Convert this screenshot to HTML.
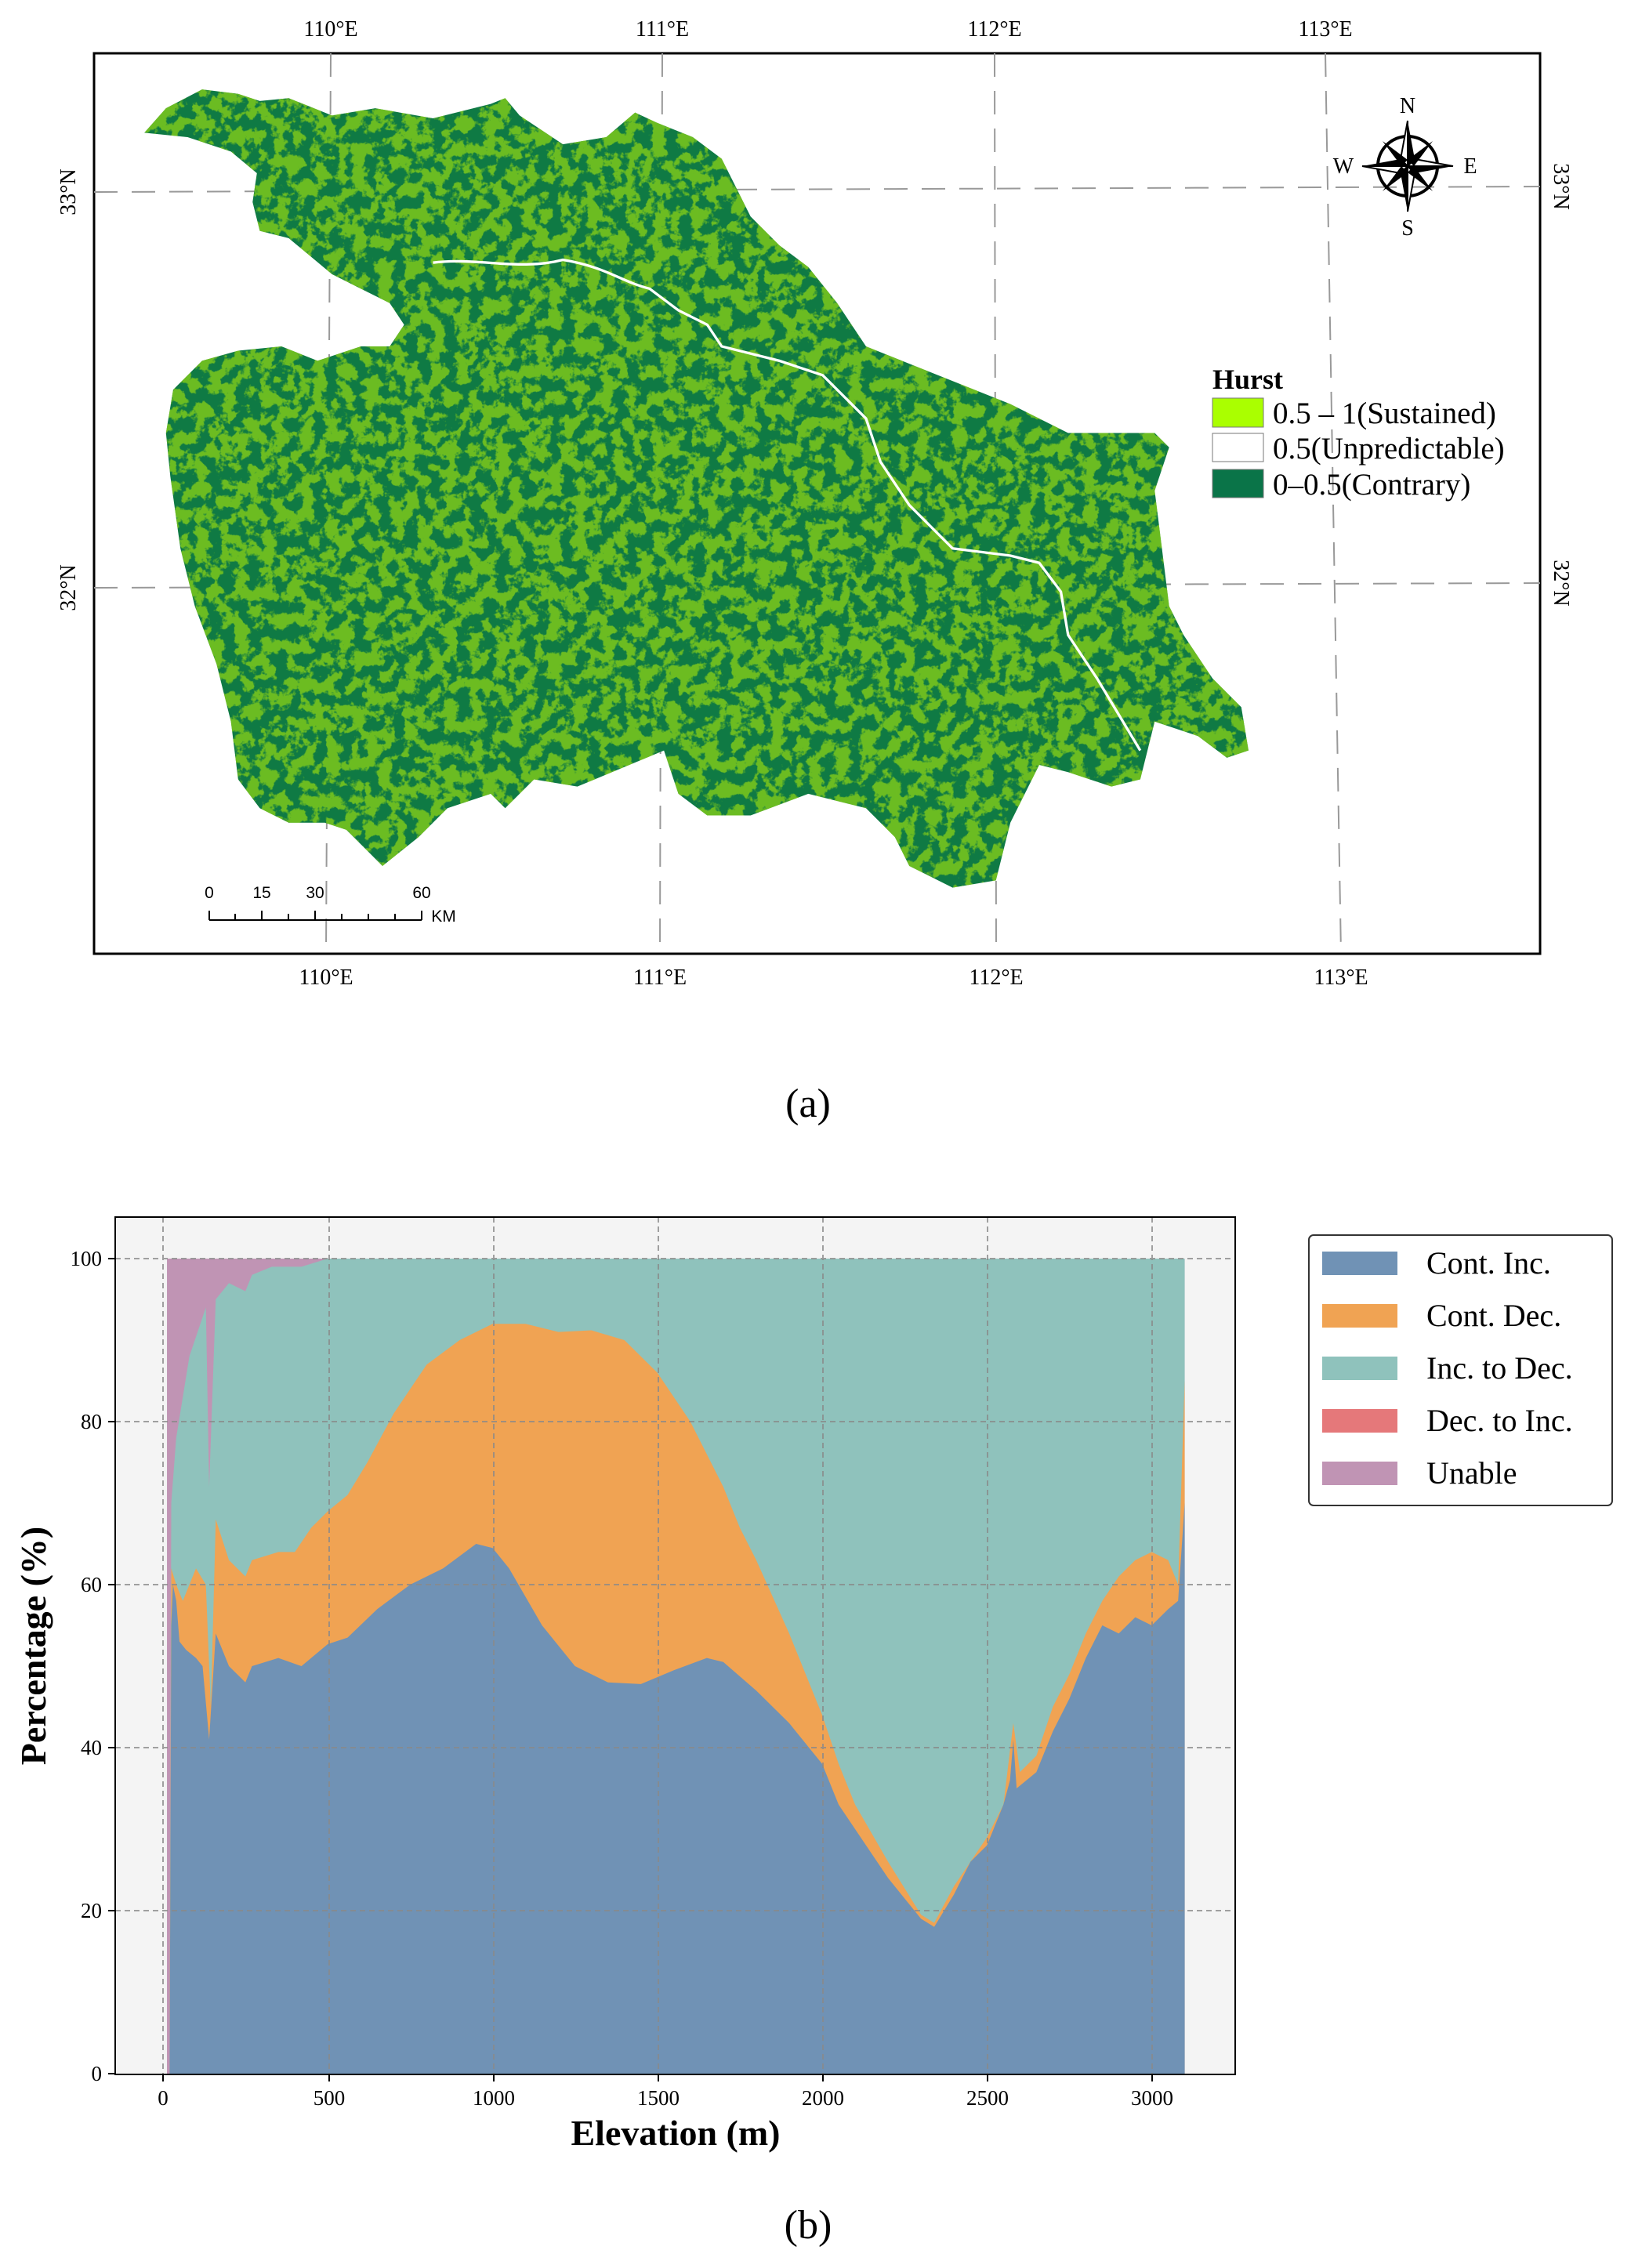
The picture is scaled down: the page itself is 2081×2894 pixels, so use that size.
<!DOCTYPE html>
<html><head><meta charset="utf-8"><style>
html,body{margin:0;padding:0;background:#fff}
svg{display:block}
</style></head><body>
<svg width="2081" height="2894" viewBox="0 0 2081 2894" xmlns="http://www.w3.org/2000/svg" font-family="Liberation Serif, serif">
<defs>
<filter id="spk" x="0" y="0" width="100%" height="100%">
<feTurbulence type="fractalNoise" baseFrequency="0.06" numOctaves="4" seed="7" result="n"/>
<feColorMatrix in="n" type="matrix" values="0 0 0 0 0.62  0 0 0 0 1  0 0 0 0 0  0 0 0 -10 5.5"/>
</filter>
<clipPath id="mapclip"><polygon transform="scale(1.8416)" points="100,92 115,75 140,62 165,65 180,70 200,68 230,80 260,75 300,82 340,72 350,68 360,80 390,100 420,95 440,78 455,85 480,95 500,110 510,130 520,150 540,170 560,185 580,210 600,240 650,260 700,280 740,300 770,300 800,300 810,310 800,340 805,380 810,420 820,440 840,470 860,490 865,520 850,525 830,510 800,500 790,540 770,545 740,535 720,530 700,570 690,610 660,615 630,600 620,580 600,560 560,550 520,565 490,565 470,550 460,520 400,545 370,540 350,560 340,550 310,560 290,580 265,600 255,590 240,575 225,570 200,570 180,560 165,540 160,500 150,460 135,420 125,380 118,330 115,300 120,270 140,250 165,243 195,240 220,250 250,240 270,240 280,225 270,210 250,200 230,190 200,165 180,160 175,140 178,120 160,105 130,95"/></clipPath>
</defs>

<!-- MAP (a) -->
<rect x="120" y="68" width="1845" height="1149" fill="#fff" stroke="#000" stroke-width="3"/>
<g stroke="#999" stroke-width="2" stroke-dasharray="30,18" fill="none">
<line x1="422" y1="68" x2="416" y2="1217"/>
<line x1="845" y1="68" x2="842" y2="1217"/>
<line x1="1269" y1="68" x2="1271" y2="1217"/>
<line x1="1691" y1="68" x2="1711" y2="1217"/>
<line x1="120" y1="245" x2="1965" y2="238"/>
<line x1="120" y1="750" x2="1965" y2="744"/>
</g>
<g clip-path="url(#mapclip)">
<rect x="150" y="100" width="1460" height="1050" fill="#0d7646"/>
<rect x="150" y="100" width="1460" height="1050" filter="url(#spk)" opacity="0.6"/>
<rect x="150" y="100" width="1460" height="1050" fill="#1a8a3a" opacity="0.2"/>
</g>
<path transform="scale(1.8416)" d="M300,182 C330,178 360,188 390,180 C420,185 430,195 450,200 L470,215 L490,225 L500,240 L540,250 L570,260 L600,290 L610,320 L630,350 L660,380 L700,385 L720,390 L735,410 L740,440 L760,470 L790,520" fill="none" stroke="#fff" stroke-width="1.8"/>

<g font-size="28" fill="#000" text-anchor="middle">
<text x="422" y="46">110°E</text><text x="845" y="46">111°E</text><text x="1269" y="46">112°E</text><text x="1691" y="46">113°E</text>
<text x="416" y="1256">110°E</text><text x="842" y="1256">111°E</text><text x="1271" y="1256">112°E</text><text x="1711" y="1256">113°E</text>
<text transform="translate(96,245) rotate(-90)">33°N</text>
<text transform="translate(96,750) rotate(-90)">32°N</text>
<text transform="translate(1983,238) rotate(90)">33°N</text>
<text transform="translate(1983,744) rotate(90)">32°N</text>
</g>
<!-- compass -->
<g transform="translate(1796,212)">
<circle r="38" fill="none" stroke="#000" stroke-width="4"/>
<polygon points="0,-58 9,-9 0,0" fill="#000"/><polygon points="0,-58 -9,-9 0,0" fill="#fff" stroke="#000" stroke-width="2"/>
<polygon points="0,58 -9,9 0,0" fill="#000"/><polygon points="0,58 9,9 0,0" fill="#fff" stroke="#000" stroke-width="2"/>
<polygon points="58,0 9,9 0,0" fill="#000"/><polygon points="58,0 9,-9 0,0" fill="#fff" stroke="#000" stroke-width="2"/>
<polygon points="-58,0 -9,-9 0,0" fill="#000"/><polygon points="-58,0 -9,9 0,0" fill="#fff" stroke="#000" stroke-width="2"/>
<polygon points="32,-32 0,-8 8,0" fill="#000"/><polygon points="-32,32 0,8 -8,0" fill="#000"/>
<polygon points="-32,-32 -8,0 0,-8" fill="#000"/><polygon points="32,32 8,0 0,8" fill="#000"/>
<g font-size="28" text-anchor="middle"><text y="-68">N</text><text y="88">S</text><text x="-82" y="9">W</text><text x="80" y="9">E</text></g>
</g>
<!-- legend -->
<text x="1547" y="496" font-size="36" font-weight="bold">Hurst</text>
<rect x="1547" y="508" width="65" height="37" fill="#aaff00" stroke="#777"/>
<rect x="1547" y="553" width="65" height="36" fill="#fff" stroke="#777"/>
<rect x="1547" y="599" width="65" height="36" fill="#0a7448" stroke="#777"/>
<g font-size="39"><text x="1624" y="540">0.5 – 1(Sustained)</text><text x="1624" y="585">0.5(Unpredictable)</text><text x="1624" y="631">0–0.5(Contrary)</text></g>
<!-- scale bar -->
<g stroke="#000" stroke-width="2"><line x1="267" y1="1174" x2="538" y2="1174"/>
<line x1="267" y1="1162" x2="267" y2="1174"/><line x1="300" y1="1166" x2="300" y2="1174"/><line x1="334" y1="1162" x2="334" y2="1174"/><line x1="368" y1="1166" x2="368" y2="1174"/><line x1="402" y1="1162" x2="402" y2="1174"/><line x1="436" y1="1166" x2="436" y2="1174"/><line x1="470" y1="1166" x2="470" y2="1174"/><line x1="504" y1="1166" x2="504" y2="1174"/><line x1="538" y1="1162" x2="538" y2="1174"/></g>
<g font-size="21" font-family="Liberation Sans, sans-serif" text-anchor="middle"><text x="267" y="1146">0</text><text x="334" y="1146">15</text><text x="402" y="1146">30</text><text x="538" y="1146">60</text><text x="566" y="1176">KM</text></g>
<text x="1031" y="1425" font-size="52" text-anchor="middle">(a)</text>

<!-- CHART (b) -->
<rect x="147" y="1553" width="1429" height="1094" fill="#f4f4f4"/>
<g transform="translate(208,2646) scale(0.4205,-10.4)">
<rect x="12" y="0" width="3088" height="100" fill="#c094b4"/>
<polygon fill="#8fc2bc" points="20,0 25,70 40,78 80,88 130,94 140,72 160,95 200,97 250,96 270,98 330,99 420,99 500,100 3100,100 3100,0"/>
<polygon fill="#f0a353" points="20,0 25,62 40,60 60,58 100,62 130,60 145,45 160,68 200,63 250,61 270,63 350,64 400,64 450,67 500,69 560,71 620,75 700,81 800,87 900,90 1000,92 1100,92 1200,91 1300,91.2 1400,90 1500,86 1600,80 1700,72 1750,67 1800,63 1900,54 2000,44 2050,38 2100,33 2200,26 2300,19.5 2340,18.5 2400,23 2500,29 2550,33 2580,43 2600,37 2650,39 2700,45 2750,49 2800,54 2850,58 2900,61 2950,63 3000,64 3050,63 3080,60 3100,85 3100,0"/>
<polygon fill="#7092b5" points="20,0 25,55 30,60 40,58 50,53 70,52 100,51 120,50 140,41 160,54 200,50 250,48 270,50 350,51 420,50 500,52.7 560,53.5 650,57 750,60 850,62 950,65 1000,64.5 1050,62 1150,55 1250,50 1350,48 1450,47.8 1550,49.5 1650,51 1700,50.5 1800,47 1900,43 2000,38 2050,33 2100,30 2200,24 2300,19 2340,18 2400,22 2450,26 2500,28 2550,33 2570,36 2580,41 2590,35 2650,37 2700,42 2750,46 2800,51 2850,55 2900,54 2950,56 3000,55 3050,57 3080,58 3100,70 3100,0"/>
</g>
<g stroke="#8a8a8a" stroke-width="2" stroke-dasharray="7,5" opacity="0.8">
<line x1="208" y1="1553" x2="208" y2="2647"/><line x1="420" y1="1553" x2="420" y2="2647"/><line x1="630" y1="1553" x2="630" y2="2647"/><line x1="840" y1="1553" x2="840" y2="2647"/><line x1="1050" y1="1553" x2="1050" y2="2647"/><line x1="1260" y1="1553" x2="1260" y2="2647"/><line x1="1470" y1="1553" x2="1470" y2="2647"/>
<line x1="147" y1="2438" x2="1576" y2="2438"/><line x1="147" y1="2230" x2="1576" y2="2230"/><line x1="147" y1="2022" x2="1576" y2="2022"/><line x1="147" y1="1814" x2="1576" y2="1814"/><line x1="147" y1="1606" x2="1576" y2="1606"/>
</g>
<rect x="147" y="1553" width="1429" height="1094" fill="none" stroke="#000" stroke-width="2"/>
<g stroke="#000" stroke-width="2">
<line x1="208" y1="2647" x2="208" y2="2656"/><line x1="420" y1="2647" x2="420" y2="2656"/><line x1="630" y1="2647" x2="630" y2="2656"/><line x1="840" y1="2647" x2="840" y2="2656"/><line x1="1050" y1="2647" x2="1050" y2="2656"/><line x1="1260" y1="2647" x2="1260" y2="2656"/><line x1="1470" y1="2647" x2="1470" y2="2656"/>
<line x1="138" y1="2646" x2="147" y2="2646"/><line x1="138" y1="2438" x2="147" y2="2438"/><line x1="138" y1="2230" x2="147" y2="2230"/><line x1="138" y1="2022" x2="147" y2="2022"/><line x1="138" y1="1814" x2="147" y2="1814"/><line x1="138" y1="1606" x2="147" y2="1606"/>
</g>
<g font-size="27" text-anchor="middle"><text x="208" y="2686">0</text><text x="420" y="2686">500</text><text x="630" y="2686">1000</text><text x="840" y="2686">1500</text><text x="1050" y="2686">2000</text><text x="1260" y="2686">2500</text><text x="1470" y="2686">3000</text></g>
<g font-size="27" text-anchor="end"><text x="130" y="2655">0</text><text x="130" y="2447">20</text><text x="130" y="2239">40</text><text x="130" y="2031">60</text><text x="130" y="1823">80</text><text x="130" y="1615">100</text></g>
<text x="862" y="2737" font-size="46" font-weight="bold" text-anchor="middle">Elevation (m)</text>
<text transform="translate(58,2100) rotate(-90)" font-size="46" font-weight="bold" text-anchor="middle">Percentage (%)</text>
<rect x="1670" y="1576" width="387" height="345" rx="6" fill="#fff" stroke="#333" stroke-width="2"/>
<rect x="1687" y="1597" width="96" height="30" fill="#7092b5"/>
<rect x="1687" y="1664" width="96" height="30" fill="#f0a353"/>
<rect x="1687" y="1731" width="96" height="30" fill="#8fc2bc"/>
<rect x="1687" y="1798" width="96" height="30" fill="#e5787a"/>
<rect x="1687" y="1865" width="96" height="30" fill="#c094b4"/>
<g font-size="40"><text x="1820" y="1625">Cont. Inc.</text><text x="1820" y="1692">Cont. Dec.</text><text x="1820" y="1759">Inc. to Dec.</text><text x="1820" y="1826">Dec. to Inc.</text><text x="1820" y="1893">Unable</text></g>
<text x="1031" y="2856" font-size="52" text-anchor="middle">(b)</text>
</svg>
</body></html>
